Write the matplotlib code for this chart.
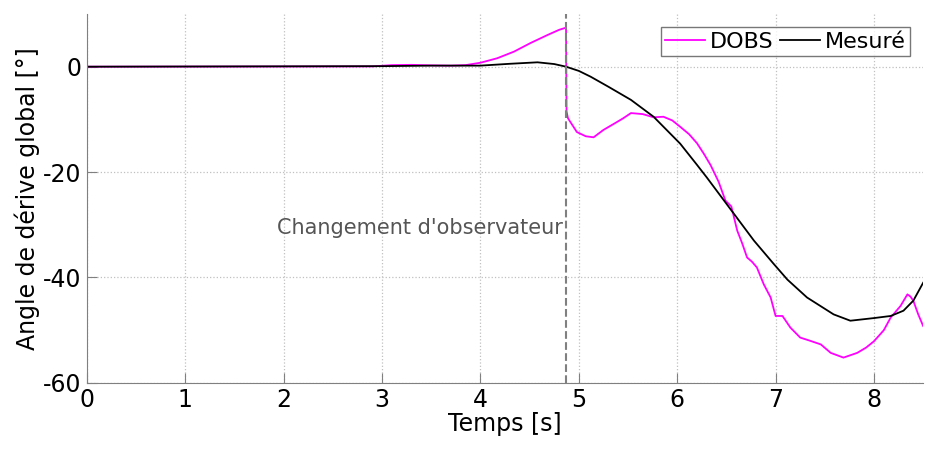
import matplotlib
matplotlib.use('Agg')
import matplotlib.pyplot as plt

plt.rcParams['font.family'] = ['DejaVu Sans']
plt.rcParams['axes.unicode_minus'] = False

# DOBS estimate (magenta) - jump at observer switch
t_dobs = [0, 2.9, 3.1, 3.3, 3.5, 3.7, 3.85, 4.0, 4.17, 4.34, 4.51, 4.68, 4.80, 4.87,
          4.875, 4.89, 4.98, 5.07, 5.15, 5.25, 5.36, 5.45, 5.53, 5.65, 5.76, 5.86,
          5.95, 6.03, 6.12, 6.20, 6.27, 6.34, 6.42, 6.49, 6.55, 6.61, 6.66, 6.71,
          6.76, 6.81, 6.88, 6.95, 7.0, 7.07, 7.15, 7.25, 7.35, 7.46, 7.56, 7.69,
          7.83, 7.92, 8.0, 8.1, 8.17, 8.27, 8.34, 8.37, 8.40, 8.45, 8.5]
dobs = [0, 0.05, 0.3, 0.35, 0.25, 0.2, 0.3, 0.75, 1.6, 2.85, 4.5, 6.0, 7.0, 7.4,
        -8.5, -9.8, -12.4, -13.2, -13.4, -12.0, -10.8, -9.8, -8.8, -9.0, -9.6, -9.5,
        -10.2, -11.4, -12.8, -14.5, -16.5, -18.7, -21.8, -25.4, -26.5, -31.1, -33.5, -36.2,
        -37.0, -38.1, -41.3, -43.8, -47.3, -47.3, -49.5, -51.4, -52.0, -52.7, -54.3, -55.2,
        -54.3, -53.3, -52.1, -50.0, -47.6, -45.4, -43.2, -43.6, -44.4, -47.0, -49.2]

# Measured drift angle (black)
t_mes = [0, 3.0, 3.5, 4.0, 4.3, 4.58, 4.75, 4.87, 5.0, 5.12, 5.3, 5.53, 5.76, 6.03,
         6.20, 6.30, 6.44, 6.58, 6.78, 6.98, 7.12, 7.32, 7.59, 7.76, 8.0, 8.17,
         8.30, 8.40, 8.5]
mesure = [0, 0.1, 0.2, 0.2, 0.55, 0.83, 0.5, 0, -0.8, -1.9, -3.8, -6.3, -9.5, -14.6,
          -18.6, -21.0, -24.5, -28.0, -33.0, -37.4, -40.4, -43.8, -47.0, -48.2, -47.7, -47.3,
          -46.3, -44.4, -41.0]

t_switch = 4.87
xticks = [0, 1, 2, 3, 4, 5, 6, 7, 8]
yticks = [-60, -40, -20, 0]

fig = plt.figure(figsize=(9.25, 4.51), dpi=100)
ax = fig.add_axes([0.094, 0.151, 0.904, 0.818])

ax.plot(t_dobs, dobs, color='#ff00ff', lw=1.3, label='DOBS')
ax.plot(t_mes, mesure, color='black', lw=1.3, label='Mesuré')
ax.axvline(t_switch, color='#808080', ls='--', lw=1.5)
ax.text(4.84, -30.7, "Changement d'observateur", color='#555555', fontsize=15,
        ha='right', va='center')

ax.set_xlim(0, 8.5)
ax.set_ylim(-60, 10)
ax.set_xticks(xticks)
ax.set_yticks(yticks)
ax.tick_params(direction='in', length=7, colors='#808080', labelcolor='black',
               labelsize=17, pad=4)
ax.grid(True, ls=':', color='#c0c0c0', lw=0.9)
for s in ['top', 'right']:
    ax.spines[s].set_visible(False)
for s in ['left', 'bottom']:
    ax.spines[s].set_color('#808080')

ax.set_xlabel('Temps [s]', fontsize=17, labelpad=0)
ax.set_ylabel('Angle de dérive global [°]', fontsize=17, labelpad=2)

leg = ax.legend(loc='upper right', ncol=2, fontsize=16, frameon=True, fancybox=False,
                handlelength=1.8, handletextpad=0.2, columnspacing=0.3,
                borderpad=0.2, borderaxespad=0.6)
leg.get_frame().set_edgecolor('#555555')
leg.get_frame().set_linewidth(1.0)

fig.savefig('out.png', dpi=100)
